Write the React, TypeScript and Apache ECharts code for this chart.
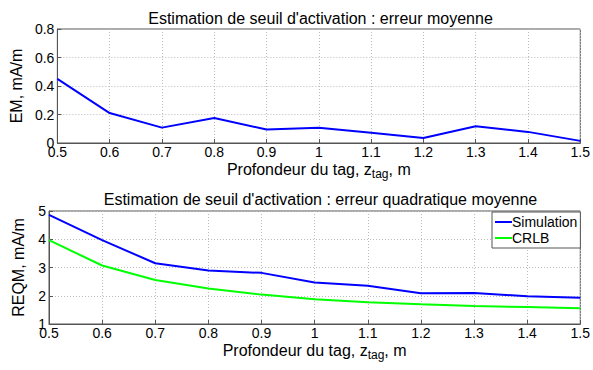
import React, { useEffect, useRef } from "react";
import * as echarts from "echarts";

const depths = ["0.5", "0.6", "0.7", "0.8", "0.9", "1", "1.1", "1.2", "1.3", "1.4", "1.5"];
const emValues = [0.45, 0.21, 0.108, 0.175, 0.095, 0.107, 0.072, 0.035, 0.118, 0.078, 0.015];
const simValues = [4.86, 3.97, 3.15, 2.89, 2.81, 2.47, 2.35, 2.09, 2.1, 1.98, 1.93];
const crlbValues = [3.97, 3.07, 2.56, 2.26, 2.04, 1.88, 1.77, 1.7, 1.64, 1.6, 1.56];
const emTicks = { min: 0, max: 0.8, interval: 0.2 };
const reqmTicks = { min: 1, max: 5, interval: 1 };

const FONT = "Liberation Sans, Arial, sans-serif";

export default function App() {
  const ref = useRef<HTMLDivElement>(null);
  useEffect(() => {
    if (!ref.current) return;
    const chart = echarts.init(ref.current, undefined, { renderer: "svg" });
    const xName = "Profondeur du tag, z{sub|tag}, m";
    const xAxisCommon = (gridIndex: number) => ({
      type: "category" as const,
      gridIndex,
      data: depths,
      boundaryGap: false,
      name: xName,
      nameLocation: "middle" as const,
      nameGap: 15,
      nameTextStyle: {
        fontFamily: FONT,
        fontSize: 16,
        color: "#000",
        rich: { sub: { fontSize: 12, fontFamily: FONT, color: "#000", padding: [10, 0, 0, 0] } },
      },
      axisLine: { show: true, lineStyle: { color: "#555", width: 1 } },
      axisTick: { show: true, inside: true, length: 4, lineStyle: { color: "#555" } },
      axisLabel: { fontFamily: FONT, fontSize: 14, color: "#000", margin: 2 },
      splitLine: { show: true, lineStyle: { color: "#bbb", type: [1, 2] as any, width: 1 } },
    });
    const yAxisCommon = (gridIndex: number, name: string, t: any) => ({
      type: "value" as const,
      gridIndex,
      min: t.min,
      max: t.max,
      interval: t.interval,
      name,
      nameLocation: "middle" as const,
      nameGap: 23,
      nameTextStyle: { fontFamily: FONT, fontSize: 16, color: "#000" },
      axisLine: { show: true, lineStyle: { color: "#555", width: 1 } },
      axisTick: { show: true, inside: true, length: 4, lineStyle: { color: "#555" } },
      axisLabel: { fontFamily: FONT, fontSize: 14, color: "#000", margin: 3 },
      splitLine: { show: true, lineStyle: { color: "#bbb", type: [1, 2] as any, width: 1 } },
    });
    chart.setOption({
      animation: false,
      backgroundColor: "#fff",
      title: [
        {
          text: "Estimation de seuil d'activation : erreur moyenne",
          left: 315.5,
          top: 5,
          textAlign: "center",
          textStyle: { fontFamily: FONT, fontSize: 16, fontWeight: "normal", color: "#000" },
        },
        {
          text: "Estimation de seuil d'activation : erreur quadratique moyenne",
          left: 315.5,
          top: 186,
          textAlign: "center",
          textStyle: { fontFamily: FONT, fontSize: 16, fontWeight: "normal", color: "#000" },
        },
      ],
      legend: {
        data: ["Simulation", "CRLB"],
        orient: "vertical",
        left: 492,
        top: 212,
        itemGap: 2,
        padding: [3, 3, 3, 3],
        icon: "rect",
        itemWidth: 17,
        itemHeight: 2,
        borderColor: "#555",
        borderWidth: 1,
        backgroundColor: "#fff",
        textStyle: { fontFamily: FONT, fontSize: 14, color: "#000", padding: [0, 0, 0, -5] },
      },
      grid: [
        { left: 49, right: 11, top: 29, height: 114, show: true, borderColor: "#555", borderWidth: 1, backgroundColor: "transparent" },
        { left: 49, right: 11, top: 211, height: 113, show: true, borderColor: "#555", borderWidth: 1, backgroundColor: "transparent" },
      ],
      xAxis: [xAxisCommon(0), xAxisCommon(1)],
      yAxis: [yAxisCommon(0, "EM, mA/m", emTicks), yAxisCommon(1, "REQM, mA/m", reqmTicks)],
      series: [
        {
          name: "EM",
          type: "line",
          xAxisIndex: 0,
          yAxisIndex: 0,
          data: emValues,
          symbol: "none",
          lineStyle: { color: "#0000ff", width: 2 },
          itemStyle: { color: "#0000ff" },
        },
        {
          name: "Simulation",
          type: "line",
          xAxisIndex: 1,
          yAxisIndex: 1,
          data: simValues,
          symbol: "none",
          lineStyle: { color: "#0000ff", width: 2 },
          itemStyle: { color: "#0000ff" },
        },
        {
          name: "CRLB",
          type: "line",
          xAxisIndex: 1,
          yAxisIndex: 1,
          data: crlbValues,
          symbol: "none",
          lineStyle: { color: "#00ff00", width: 2 },
          itemStyle: { color: "#00ff00" },
        },
      ],
    });
    return () => chart.dispose();
  }, []);
  return (
    <div
      ref={ref}
      style={{ position: "fixed", left: 0, top: 0, width: 593, height: 370 }}
    />
  );
}
